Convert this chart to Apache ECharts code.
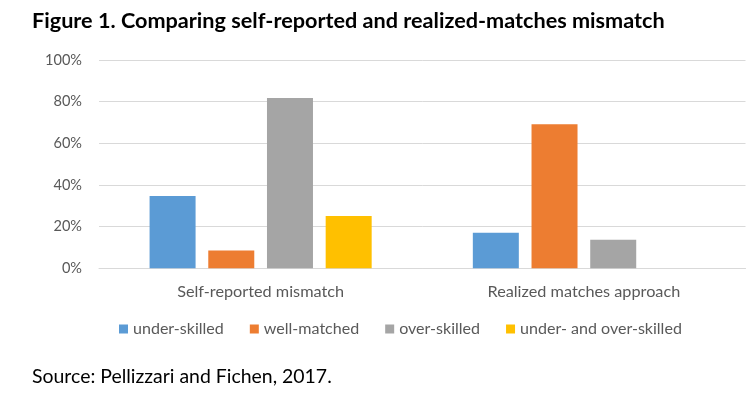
<!DOCTYPE html>
<html>
<head>
<meta charset="utf-8">
<script src="https://cdn.jsdelivr.net/npm/echarts@6/dist/echarts.min.js"></script>
<style>
html,body{margin:0;padding:0;background:#fff;}
#c{width:749px;height:395px;}
</style>
</head>
<body>
<div id="c"></div>
<script>
// ---- data ----
const categories = ['Self-reported mismatch', 'Realized matches approach'];
const seriesNames = ['under-skilled', 'well-matched', 'over-skilled', 'under- and over-skilled'];
const underSkilled = [34.7, 17.1];
const wellMatched = [8.6, 69.1];
const overSkilled = [81.8, 13.7];
const underAndOverSkilled = [25.1, null];
const titleText = 'Figure 1. Comparing self-reported and realized-matches mismatch';
const sourceText = 'Source: Pellizzari and Fichen, 2017.';

// ---- helpers ----
const FAMILY = 'Lato';
const ctx = document.createElement('canvas').getContext('2d');
function fit(text, weight, width) {
  ctx.font = weight + ' 100px ' + FAMILY;
  return 100 * width / ctx.measureText(text).width;
}
const titleSize = fit(titleText, 'bold', 633);
const sourceSize = fit(sourceText, 'normal', 300);
const catSize = fit('Realized matches approach', 'normal', 193);
const legendSize = fit('under- and over-skilled', 'normal', 162);
const ySize = fit('100%', 'normal', 37);

const colors = ['#5B9BD5', '#ED7D31', '#A5A5A5', '#FFC000'];
const values = [underSkilled, wellMatched, overSkilled, underAndOverSkilled];

const chart = echarts.init(document.getElementById('c'), null, {renderer: 'canvas'});
chart.setOption({
  animation: false,
  textStyle: {fontFamily: FAMILY},
  title: [
    {text: titleText, left: 32, top: 21 - titleSize * 0.5, padding: 0,
     textStyle: {fontSize: titleSize, fontWeight: 'bold', color: '#000', fontFamily: FAMILY, lineHeight: titleSize}},
    {text: sourceText, left: 32, top: 377 - sourceSize * 0.5, padding: 0,
     textStyle: {fontSize: sourceSize, fontWeight: 'normal', color: '#000', fontFamily: FAMILY, lineHeight: sourceSize}}
  ],
  legend: {
    data: seriesNames,
    left: 119,
    top: 329 - legendSize * 0.5,
    padding: 0,
    itemWidth: 9,
    itemHeight: 9,
    itemGap: 26,
    icon: 'rect',
    textStyle: {fontSize: legendSize, color: '#595959', fontFamily: FAMILY, padding: [0, 0, 0, 0], lineHeight: legendSize}
  },
  grid: {left: 99, right: 3.5, top: 60, bottom: 126.7},
  xAxis: {
    type: 'category',
    data: categories,
    axisLine: {lineStyle: {color: '#D9D9D9', width: 1}},
    axisTick: {show: false},
    axisLabel: {fontSize: catSize, color: '#595959', margin: 15, fontFamily: FAMILY}
  },
  yAxis: {
    type: 'value',
    min: 0, max: 100, interval: 20,
    axisLine: {show: false},
    axisTick: {show: false},
    splitLine: {lineStyle: {color: '#D9D9D9', width: 1}},
    axisLabel: {formatter: '{value}%', fontSize: ySize, color: '#595959', margin: 17, fontFamily: FAMILY}
  },
  series: seriesNames.map((n, i) => ({
    name: n,
    type: 'bar',
    data: values[i],
    barWidth: 46,
    barGap: '27.6%',
    itemStyle: {color: colors[i]}
  }))
});
</script>
</body>
</html>
